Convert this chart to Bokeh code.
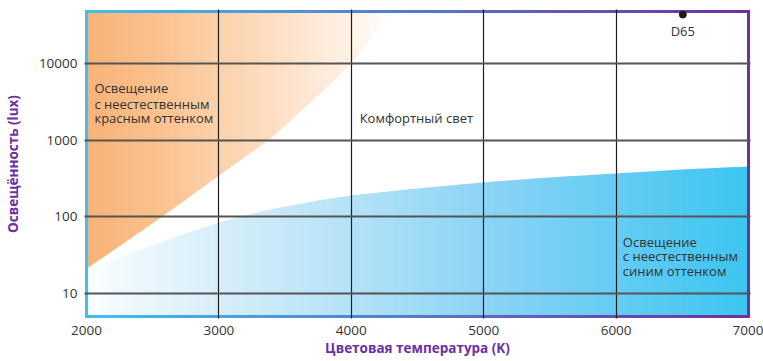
import numpy as np
from bokeh.plotting import figure
from bokeh.models import Range1d, FixedTicker, BasicTickFormatter, Label
from bokeh.embed import file_html
from bokeh.resources import INLINE

# ---------------- data ----------------
x_ticks = [2000, 3000, 4000, 5000, 6000, 7000]
y_ticks = [10, 100, 1000, 10000]
grid_x = [3000, 4000, 5000, 6000]

# lower edge of the "unnatural red" zone (K, lux)
red_edge_k = [2000, 2420, 2570, 3000, 3400, 3830, 4000, 4300]
red_edge_lux = [21, 66, 100, 345, 1080, 5150, 10000, 47700]

# upper edge of the "unnatural blue" zone (K, lux)
blue_edge_k = [2000, 2250, 2500, 2750, 3000, 3250, 3500, 3750, 4000, 4500, 5000, 5500, 6000, 6500, 7000]
blue_edge_lux = [19, 30, 42, 61, 84, 110, 136, 163, 190, 234, 281, 326, 367, 414, 453]

d65_k = [6504]
d65_lux = [43500]

red_text = ["Освещение", "с неестественным", "красным оттенком"]
blue_text = ["Освещение", "с неестественным", "синим оттенком"]
comfort_text = "Комфортный свет"
x_title = "Цветовая температура (K)"
y_title = "Освещённость (lux)"

# ---------------- geometry / style ----------------
X0, X1 = 2000, 7000
Y0, Y1 = 5.0, 47700.0
FONT = "Open Sans"
TXT = "#333333"
PURPLE = "#6b2fa3"

ext = 0.026
p = figure(width=763, height=361, output_backend="svg", toolbar_location=None,
           y_axis_type="log",
           x_range=Range1d(1985, 7015),
           y_range=Range1d(10 ** (np.log10(Y0) - ext), 10 ** (np.log10(Y1) + ext)),
           min_border_left=82, min_border_right=13, min_border_top=9, min_border_bottom=43)
p.outline_line_color = None
p.background_fill_color = "white"
p.border_fill_color = "white"


def interp_log(xq, xk, yk):
    return 10 ** np.interp(xq, xk, np.log10(yk))


def grad(xq, sx, srgb):
    a = np.array(srgb, float)
    r = np.interp(xq, sx, a[:, 0]); g = np.interp(xq, sx, a[:, 1]); b = np.interp(xq, sx, a[:, 2])
    return "#%02x%02x%02x" % (int(round(r)), int(round(g)), int(round(b)))


# orange gradient zone
o_stops_x = [2000, 2500, 3000, 3500, 4000, 4300]
o_stops_c = [(248, 178, 118), (250, 192, 140), (252, 209, 170), (253, 225, 200), (254, 241, 230), (255, 255, 255)]
edges = np.linspace(X0, red_edge_k[-1], 101)
oxs, oys, ocs = [], [], []
for i in range(len(edges) - 1):
    xa, xb = edges[i], min(edges[i + 1] + 8, red_edge_k[-1])
    ba, bb = interp_log(xa, red_edge_k, red_edge_lux), interp_log(xb, red_edge_k, red_edge_lux)
    oxs.append([xa, xb, xb, xa]); oys.append([ba, bb, Y1, Y1])
    ocs.append(grad((xa + xb) / 2, o_stops_x, o_stops_c))
p.patches(oxs, oys, fill_color=ocs, line_color=None)

# blue gradient zone
b_stops_x = [2000, 3000, 4000, 5000, 6000, 7000]
b_stops_c = [(250, 253, 255), (215, 238, 250), (180, 226, 247), (140, 212, 245), (100, 204, 243), (60, 197, 240)]
edges = np.linspace(X0, X1, 141)
bxs, bys, bcs = [], [], []
for i in range(len(edges) - 1):
    xa, xb = edges[i], min(edges[i + 1] + 8, X1)
    ta, tb = interp_log(xa, blue_edge_k, blue_edge_lux), interp_log(xb, blue_edge_k, blue_edge_lux)
    bxs.append([xa, xb, xb, xa]); bys.append([Y0, Y0, tb, ta])
    bcs.append(grad((xa + xb) / 2, b_stops_x, b_stops_c))
p.patches(bxs, bys, fill_color=bcs, line_color=None)

# gradient frame border
c_left, c_right = (62, 193, 238), (112, 48, 160)
nb = 80
bx = np.linspace(X0, X1, nb + 1)
sx0, sx1, sy0, sy1, sc = [], [], [], [], []
for yy in (Y0, Y1):
    for i in range(nb):
        sx0.append(bx[i]); sx1.append(bx[i + 1]); sy0.append(yy); sy1.append(yy)
        sc.append(grad((bx[i] + bx[i + 1]) / 2, [X0, X1], [c_left, c_right]))
p.segment(sx0, sy0, sx1, sy1, line_color=sc, line_width=3, line_cap="square")
p.segment([X0], [Y0], [X0], [Y1], line_color="#3ec1ee", line_width=3, line_cap="square")
p.segment([X1], [Y0], [X1], [Y1], line_color="#7030a0", line_width=3, line_cap="square")

# D65
p.scatter(d65_k, d65_lux, size=7, color="#1a1a1a")

# grid on top of fills
p.xgrid.ticker = FixedTicker(ticks=grid_x)
p.ygrid.ticker = FixedTicker(ticks=y_ticks)
p.xgrid.grid_line_color = "#1e1e1e"
p.xgrid.grid_line_width = 1.2
p.ygrid.grid_line_color = "#555555"
p.ygrid.grid_line_width = 2
p.xgrid.level = "guide"
p.ygrid.level = "guide"

# axes
p.xaxis.ticker = FixedTicker(ticks=x_ticks)
p.yaxis.ticker = FixedTicker(ticks=y_ticks)
p.yaxis.formatter = BasicTickFormatter(use_scientific=False)
for ax in (p.xaxis[0], p.yaxis[0]):
    ax.axis_line_color = None
    ax.major_tick_line_color = None
    ax.minor_tick_line_color = None
    ax.major_tick_out = 0
    ax.major_tick_in = 0
    ax.minor_tick_out = 0
    ax.minor_tick_in = 0
    ax.major_label_text_font = FONT
    ax.major_label_text_font_size = "13.5px"
    ax.major_label_text_color = TXT
    ax.axis_label_text_font = FONT
    ax.axis_label_text_font_style = "bold"
    ax.axis_label_text_font_size = "13.5px"
    ax.axis_label_text_color = PURPLE
p.yaxis.axis_label = y_title
p.xaxis.axis_label = x_title
p.xaxis.major_label_standoff = 7
p.xaxis.axis_label_standoff = 1
p.yaxis.major_label_standoff = 7
p.yaxis.axis_label_standoff = 14


def lab(x, y, t, align="left"):
    p.add_layout(Label(x=x, y=y, text=t, text_font=FONT, text_font_size="13px",
                       text_color=TXT, text_baseline="middle", text_align=align))


for t, yy in zip(red_text, [4720, 3006, 1918]):
    lab(2060, yy, t)
for t, yy in zip(blue_text, [46.2, 30.4, 19.9]):
    lab(6051, yy, t)
lab(4063, 1918, comfort_text)
lab(6504, 26900, "D65", align="center")

open("out.html", "w").write(file_html(p, INLINE))
